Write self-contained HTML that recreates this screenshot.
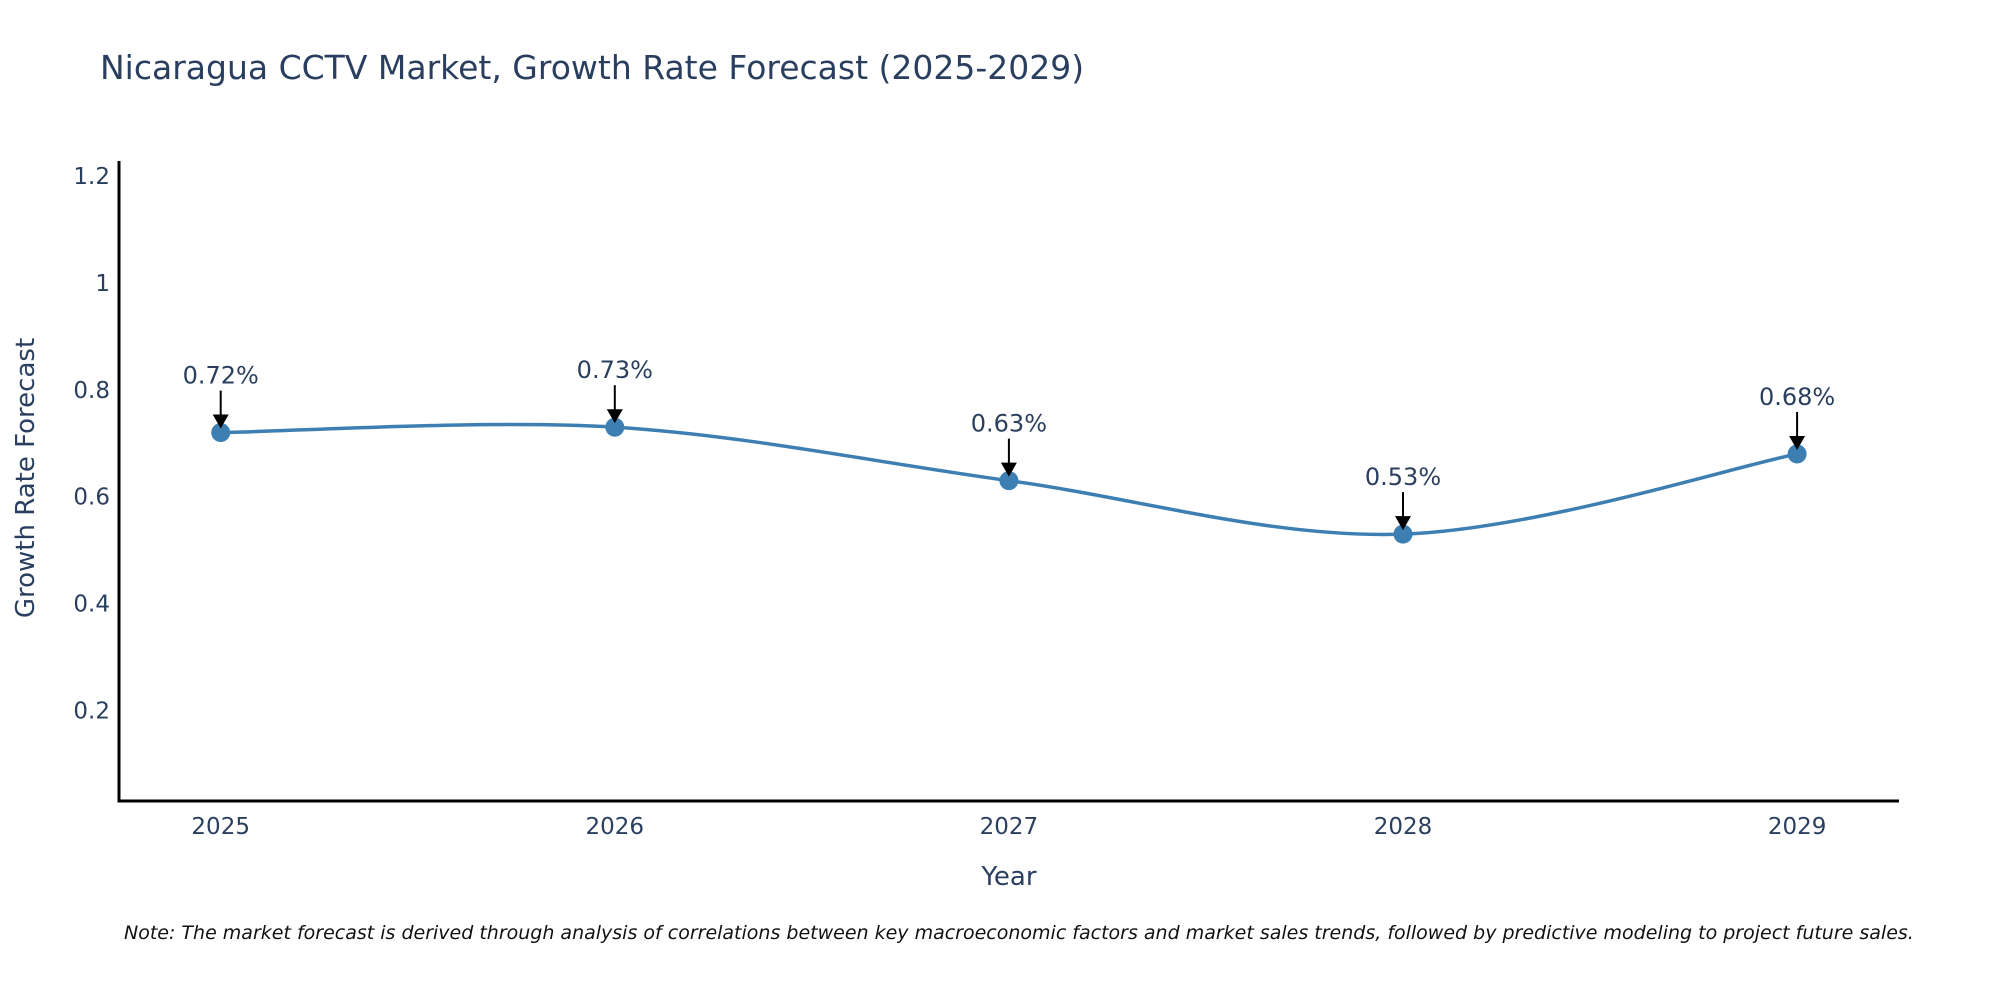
<!DOCTYPE html>
<html><head><meta charset="utf-8"><style>
html,body{margin:0;padding:0;background:#fff;}
svg{display:block;font-family:"DejaVu Sans","Liberation Sans",sans-serif;}
</style></head><body>
<svg id="chart" width="2000" height="1000" viewBox="0 0 2000 1000" xmlns="http://www.w3.org/2000/svg">
<text x="100" y="79" font-size="33" fill="#2a3f5f">Nicaragua CCTV Market, Growth Rate Forecast (2025-2029)</text>
<g id="yticks"></g>
<g id="xticks"></g>
<line x1="119" y1="161" x2="119" y2="802" stroke="#000" stroke-width="3"/>
<line x1="117.5" y1="801" x2="1899" y2="801" stroke="#000" stroke-width="3"/>
<text transform="translate(34,478) rotate(-90)" text-anchor="middle" font-size="26" fill="#2a3f5f">Growth Rate Forecast</text>
<text x="1009" y="885" text-anchor="middle" font-size="26" fill="#2a3f5f">Year</text>
<g id="series"></g>
<g id="annots"></g>
<text x="124" y="939" font-size="19" font-style="italic" fill="#111">Note: The market forecast is derived through analysis of correlations between key macroeconomic factors and market sales trends, followed by predictive modeling to project future sales.</text>
</svg>
<script>
const years = [2025, 2026, 2027, 2028, 2029];
const growth = [0.72, 0.73, 0.63, 0.53, 0.68];
const labels = ["0.72%", "0.73%", "0.63%", "0.53%", "0.68%"];
const yTickValues = [0.2, 0.4, 0.6, 0.8, 1, 1.2];
const yTickLabels = ["0.2", "0.4", "0.6", "0.8", "1", "1.2"];

const NS = "http://www.w3.org/2000/svg";
function xScale(v){ return 220.7 + (v - 2025) * 394.1; }
function yScale(v){ return 817.4 - v * 534.5; }
function mk(tag, attrs, parent){
  const el = document.createElementNS(NS, tag);
  for (const k in attrs) el.setAttribute(k, attrs[k]);
  parent.appendChild(el);
  return el;
}
const yt = document.getElementById('yticks');
yTickValues.forEach((v, i) => {
  const t = mk('text', {x: 110, y: yScale(v) + 8, 'text-anchor': 'end', 'font-size': 23, fill: '#2a3f5f'}, yt);
  
  
  t.textContent = yTickLabels[i];
});
const xt = document.getElementById('xticks');
years.forEach(y => {
  const t = mk('text', {x: xScale(y), y: 834, 'text-anchor': 'middle', 'font-size': 23, fill: '#2a3f5f'}, xt);
  
  
  t.textContent = String(y);
});
const pts = years.map((y, i) => [xScale(y), yScale(growth[i])]);
let d = `M${pts[0][0]},${pts[0][1]}`;
for (let i = 0; i < pts.length - 1; i++) {
  const p0 = pts[Math.max(i - 1, 0)], p1 = pts[i], p2 = pts[i + 1], p3 = pts[Math.min(i + 2, pts.length - 1)];
  const c1 = [p1[0] + (p2[0] - p0[0]) / 6, p1[1] + (p2[1] - p0[1]) / 6];
  const c2 = [p2[0] - (p3[0] - p1[0]) / 6, p2[1] - (p3[1] - p1[1]) / 6];
  d += ` C${c1[0]},${c1[1]} ${c2[0]},${c2[1]} ${p2[0]},${p2[1]}`;
}
const s = document.getElementById('series');
const line = mk('path', {d: d, fill: 'none', stroke: '#3d7fb2', 'stroke-width': 3.5}, s);


pts.forEach(p => {
  const c = mk('circle', {cx: p[0], cy: p[1], r: 9.5, fill: '#3d7fb2'}, s);
  
  
});
const a = document.getElementById('annots');
pts.forEach((p, i) => {
  const t = mk('text', {x: p[0], y: p[1] - 49, 'text-anchor': 'middle', 'font-size': 24, fill: '#2a3f5f'}, a);
  
  
  t.textContent = labels[i];
  const l = mk('line', {x1: p[0], y1: p[1] - 42, x2: p[0], y2: p[1] - 14, stroke: '#000', 'stroke-width': 2}, a);
  
  
  const h = mk('path', {d: `M${p[0]-8},${p[1]-18} L${p[0]+8},${p[1]-18} L${p[0]},${p[1]-4} Z`, fill: '#000'}, a);
  
  
});
</script>
</body></html>
